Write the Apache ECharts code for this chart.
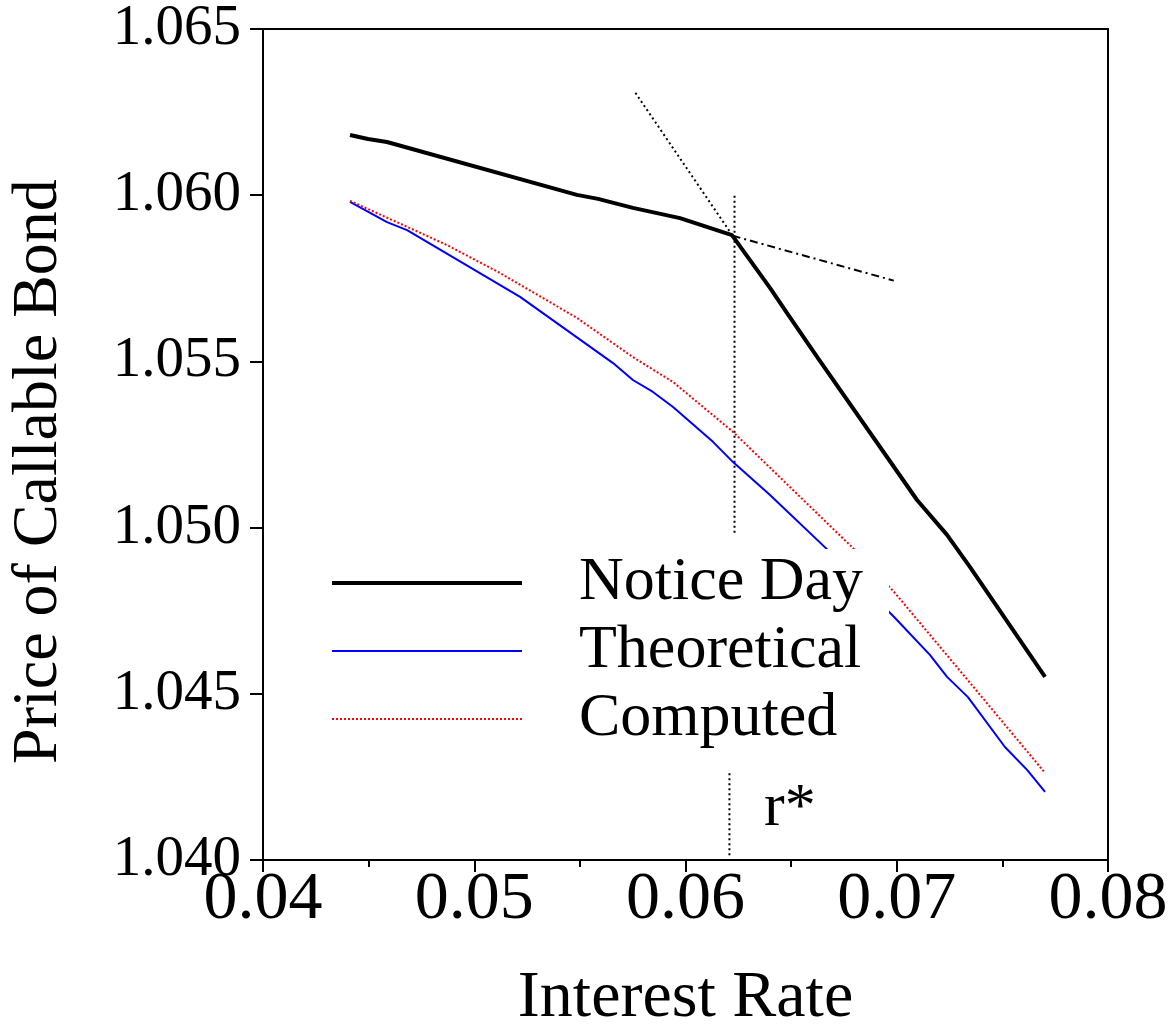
<!DOCTYPE html>
<html>
<head>
<meta charset="utf-8">
<script src="https://cdn.jsdelivr.net/npm/echarts@6/dist/echarts.min.js"></script>
<style>
html,body{margin:0;padding:0;background:#fff;}
#c{width:1168px;height:1030px;}
</style>
</head>
<body>
<div id="c"></div>
<script>
// ---- data ----
const xTicks = [0.04, 0.05, 0.06, 0.07, 0.08];
const yTicks = [1.040, 1.045, 1.050, 1.055, 1.060, 1.065];

const noticeX = [0.04412, 0.04497, 0.04587, 0.05486, 0.05586, 0.05751, 0.05974, 0.06220, 0.06400, 0.06480, 0.06627, 0.07096, 0.07238, 0.07347, 0.07702];
const noticeY = [1.06181, 1.06169, 1.06160, 1.06001, 1.05989, 1.05962, 1.05931, 1.05880, 1.05721, 1.05646, 1.05510, 1.05083, 1.04978, 1.04881, 1.04551];

const theoX = [0.04412, 0.04587, 0.04682, 0.05217, 0.05657, 0.05751, 0.05846, 0.05941, 0.06130, 0.06225, 0.06400, 0.06698, 0.06992, 0.07157, 0.07238, 0.07337, 0.07512, 0.07617, 0.07702];
const theoY = [1.05980, 1.05919, 1.05895, 1.05694, 1.05495, 1.05444, 1.05408, 1.05363, 1.05258, 1.05197, 1.05098, 1.04918, 1.04728, 1.04617, 1.04551, 1.04490, 1.04340, 1.04271, 1.04205];

const compX = [0.04412, 0.04696, 0.04871, 0.05122, 0.05486, 0.05751, 0.05941, 0.06225, 0.06670, 0.06826, 0.06992, 0.07347, 0.07702];
const compY = [1.05983, 1.05901, 1.05850, 1.05766, 1.05631, 1.05513, 1.05438, 1.05288, 1.05014, 1.04918, 1.04803, 1.04533, 1.04262];

// tangent lines at the kink and the r* markers
const steepTangentX = [0.05763, 0.06223];
const steepTangentY = [1.06308, 1.05878];
const flatTangentX = [0.06223, 0.06986];
const flatTangentY = [1.05878, 1.05743];
const rStarUpperX = [0.06232, 0.06232];
const rStarUpperY = [1.05998, 1.04977];
const rStarLowerX = [0.06208, 0.06208];
const rStarLowerY = [1.04261, 1.04006];

const pair = (xs, ys) => xs.map((x, i) => [x, ys[i]]);
const FONT = 'Liberation Serif';

const chart = echarts.init(document.getElementById('c'), null, {renderer: 'canvas'});
chart.setOption({
  animation: false,
  backgroundColor: '#fff',
  grid: {left: 263, right: 60, top: 29, bottom: 170, show: true, borderColor: '#000', borderWidth: 2, backgroundColor: 'transparent', containLabel: false, outerBoundsMode: 'none'},
  xAxis: {
    type: 'value', min: xTicks[0], max: xTicks[xTicks.length - 1], interval: 0.01,
    name: 'Interest Rate', nameLocation: 'middle', nameGap: 106,
    nameTextStyle: {fontFamily: FONT, fontSize: 66, color: '#000'},
    axisLine: {show: true, lineStyle: {color: '#000', width: 2}},
    axisTick: {show: true, inside: false, length: 12, lineStyle: {color: '#000', width: 2}},
    minorTick: {show: true, splitNumber: 2, length: 7, lineStyle: {color: '#000', width: 2}},
    splitLine: {show: false},
    axisLabel: {fontFamily: FONT, fontSize: 68, color: '#000', margin: 6, formatter: v => v.toFixed(2)}
  },
  yAxis: {
    type: 'value', min: yTicks[0], max: yTicks[yTicks.length - 1], interval: 0.005,
    name: 'Price of Callable Bond', nameLocation: 'middle', nameGap: 192, nameRotate: 90,
    nameTextStyle: {fontFamily: FONT, fontSize: 64, color: '#000', padding: [0, 54, 0, 0]},
    axisLine: {show: true, lineStyle: {color: '#000', width: 2}},
    axisTick: {show: true, inside: false, length: 13, lineStyle: {color: '#000', width: 2}},
    splitLine: {show: false},
    axisLabel: {fontFamily: FONT, fontSize: 57, color: '#000', margin: 22, formatter: v => v.toFixed(3)}
  },
  legend: {
    data: [
      {name: 'Notice Day', itemStyle: {opacity: 0}, lineStyle: {width: 4}},
      {name: 'Theoretical', itemStyle: {opacity: 0}, lineStyle: {width: 2}},
      {name: 'Computed', itemStyle: {opacity: 0}, lineStyle: {width: 2, type: [2, 2]}}
    ],
    orient: 'vertical', left: 310, top: 549,
    backgroundColor: '#fff', padding: [0, 26, 8, 20],
    itemWidth: 190, itemHeight: 14, itemGap: 0,
    selectedMode: false,
    textStyle: {fontFamily: FONT, fontSize: 62, color: '#000', lineHeight: 68, padding: [0, 0, 0, 52]}
  },
  series: [
    {name: 'Notice Day', type: 'line', data: pair(noticeX, noticeY), symbol: 'none', lineStyle: {color: '#000', width: 4}, itemStyle: {color: '#000'}, z: 3},
    {name: 'Theoretical', type: 'line', data: pair(theoX, theoY), symbol: 'none', lineStyle: {color: '#0000ff', width: 2}, itemStyle: {color: '#0000ff'}, z: 3},
    {name: 'Computed', type: 'line', data: pair(compX, compY), symbol: 'none', lineStyle: {color: '#ff0000', width: 2, type: [2, 2]}, itemStyle: {color: '#ff0000'}, z: 3},
    {name: 'steep', type: 'line', data: pair(steepTangentX, steepTangentY), symbol: 'none', silent: true, lineStyle: {color: '#000', width: 2, type: [2, 3]}, z: 2},
    {name: 'flat', type: 'line', data: pair(flatTangentX, flatTangentY), symbol: 'none', silent: true, lineStyle: {color: '#000', width: 2, type: [8, 4, 2, 4]}, z: 2},
    {name: 'rUpper', type: 'line', data: pair(rStarUpperX, rStarUpperY), symbol: 'none', silent: true, lineStyle: {color: '#000', width: 2, type: [2, 3]}, z: 2},
    {name: 'rLower', type: 'line', data: pair(rStarLowerX, rStarLowerY), symbol: 'none', silent: true, lineStyle: {color: '#000', width: 2, type: [2, 3]}, z: 2}
  ],
  graphic: [
    {type: 'text', left: 764, top: 778, style: {text: 'r*', fontFamily: FONT, fontSize: 62, fill: '#000'}}
  ]
});
</script>
</body>
</html>
